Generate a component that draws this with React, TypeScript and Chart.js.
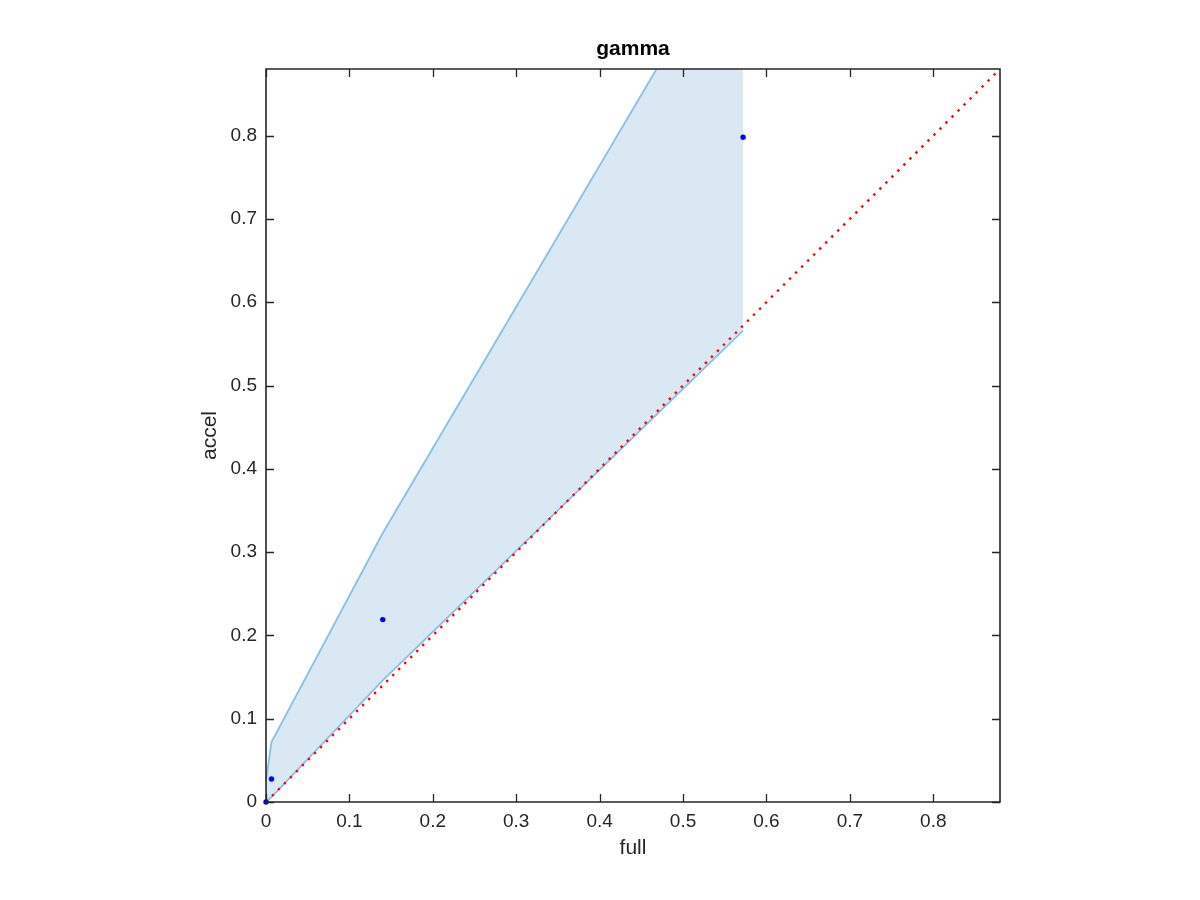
import React, { useEffect, useRef } from "react";
import { Chart, registerables } from "chart.js";

Chart.register(...registerables);

const fullX = [0, 0.0066, 0.14, 0.572];
const accelY = [0, 0.0276, 0.219, 0.798];
const upperY = [0.026, 0.072, 0.323, 1.056];
const lowerY = [0, 0.006, 0.146, 0.566];
const diagX = [0, 0.88];
const axisMin = 0;
const axisMax = 0.88;
const tickStep = 0.1;

const FONT = "'Liberation Sans', Arial, Helvetica, sans-serif";
const AX = "#262626";

const framePlugin = {
  id: "frame",
  afterDraw(chart: any) {
    const { ctx, chartArea } = chart;
    const { left, right, top, bottom } = chartArea;
    const xs = chart.scales.x;
    const ys = chart.scales.y;
    ctx.save();
    ctx.strokeStyle = AX;
    ctx.lineWidth = 1.6;
    ctx.beginPath();
    ctx.rect(left, top, right - left, bottom - top);
    ctx.stroke();
    const tl = 8;
    ctx.lineWidth = 1.3;
    ctx.beginPath();
    xs.ticks.forEach((t: any) => {
      const p = Math.round(xs.getPixelForValue(t.value)) + 0.5;
      ctx.moveTo(p, bottom);
      ctx.lineTo(p, bottom - tl);
      ctx.moveTo(p, top);
      ctx.lineTo(p, top + tl);
    });
    ys.ticks.forEach((t: any) => {
      const p = Math.round(ys.getPixelForValue(t.value)) + 0.5;
      ctx.moveTo(left, p);
      ctx.lineTo(left + tl, p);
      ctx.moveTo(right, p);
      ctx.lineTo(right - tl, p);
    });
    ctx.stroke();
    ctx.restore();
  },
};

export default function App() {
  const ref = useRef<HTMLCanvasElement>(null);
  useEffect(() => {
    if (!ref.current) return;
    Chart.defaults.font.family = FONT;
    const chart = new Chart(ref.current, {
      type: "line",
      data: {
        datasets: [
          {
            label: "points",
            data: fullX.map((x, i) => ({ x, y: accelY[i] })),
            showLine: false,
            pointRadius: 2.7,
            pointBackgroundColor: "#0000ff",
            pointBorderWidth: 0,
            borderColor: "#0000ff",
            clip: false,
          },
          {
            label: "diag",
            data: diagX.map((x) => ({ x, y: x })),
            borderColor: "rgb(255,0,0)",
            borderWidth: 2.4,
            borderDash: [2.4, 6.1],
            pointRadius: 0,
            fill: false,
          },
          {
            label: "lower",
            data: fullX.map((x, i) => ({ x, y: lowerY[i] })),
            borderColor: "rgb(136,192,230)",
            borderWidth: 1.8,
            pointRadius: 0,
            fill: false,
          },
          {
            label: "upper",
            data: fullX.map((x, i) => ({ x, y: upperY[i] })),
            borderColor: "rgb(136,192,230)",
            borderWidth: 1.8,
            pointRadius: 0,
            backgroundColor: "rgb(217,232,243)",
            fill: "-1",
          },
        ],
      },
      options: {
        responsive: false,
        animation: false,
        events: [],
        layout: { padding: { left: 0, right: 200, top: 0, bottom: 0 } },
        plugins: {
          legend: { display: false },
          tooltip: { enabled: false },
          title: {
            display: true,
            text: "gamma",
            color: "#000",
            fullSize: false,
            font: { size: 21, weight: "bold", family: FONT },
            padding: { top: 37, bottom: 6.8 },
          },
        },
        scales: {
          x: {
            type: "linear",
            min: axisMin,
            max: axisMax,
            grid: { display: false, drawTicks: false },
            border: { display: false },
            ticks: {
              stepSize: tickStep,
              includeBounds: false,
              color: AX,
              font: { size: 19, family: FONT },
              padding: 8,
              maxRotation: 0,
            },
            title: {
              display: true,
              text: "full",
              color: AX,
              font: { size: 21, family: FONT },
              padding: { top: 0, bottom: 39.4 },
            },
            afterFit: (s: any) => {
              s.height = 98;
            },
          },
          y: {
            type: "linear",
            min: axisMin,
            max: axisMax,
            grid: { display: false, drawTicks: false },
            border: { display: false },
            ticks: {
              stepSize: tickStep,
              includeBounds: false,
              color: AX,
              font: { size: 19, family: FONT },
              padding: 9,
            },
            title: {
              display: true,
              text: "accel",
              color: AX,
              font: { size: 21, family: FONT },
              padding: { top: 197.4, bottom: 0 },
            },
            afterFit: (s: any) => {
              s.width = 266;
            },
          },
        },
      },
      plugins: [framePlugin],
    } as any);
    return () => chart.destroy();
  }, []);
  return (
    <div style={{ position: "absolute", left: 0, top: 0, width: 1200, height: 900, background: "#fff" }}>
      <canvas ref={ref} width={1200} height={900} />
    </div>
  );
}
